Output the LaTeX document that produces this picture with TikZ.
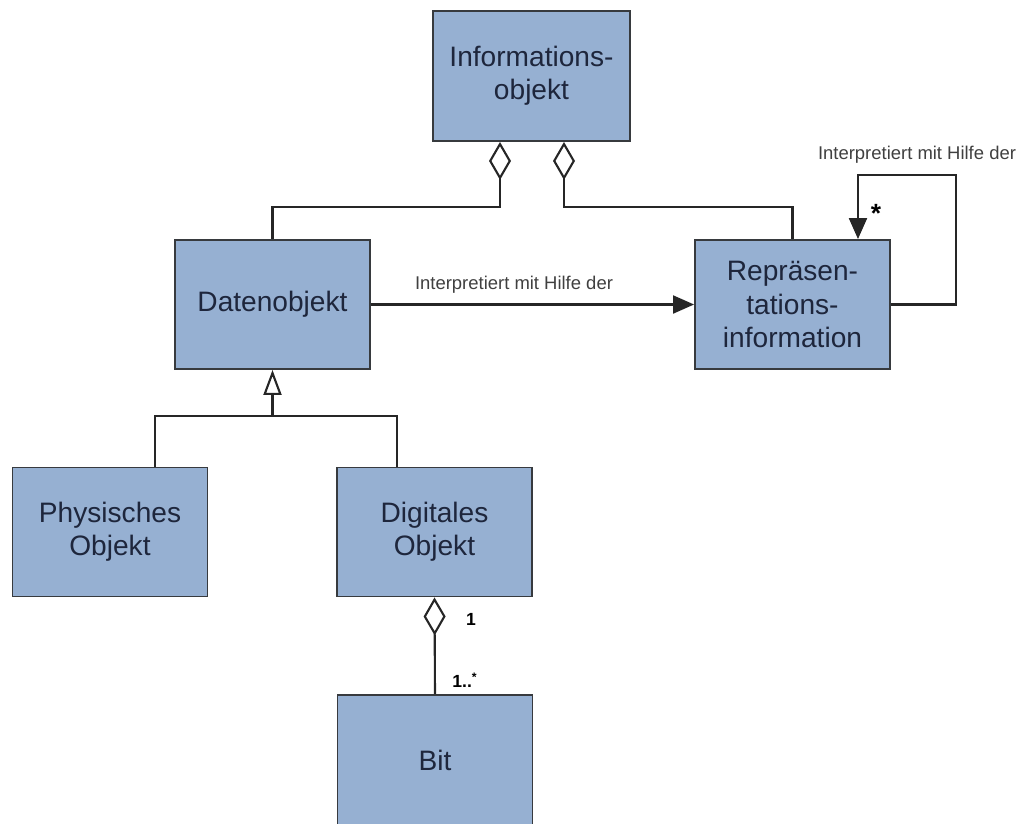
\documentclass[tikz,border=0pt]{standalone}
\usepackage{fontspec}
\setmainfont{Liberation Sans}
\usepackage{xcolor}
\usepackage{tikz}
\usetikzlibrary{arrows.meta,positioning}
\definecolor{boxblue}{RGB}{150,176,210}
\definecolor{boxtext}{RGB}{30,38,60}
\definecolor{boxline}{RGB}{55,58,62}

\begin{document}
\begin{tikzpicture}[x=0.02cm, y=-0.02cm,
  klasse/.style={draw=boxline, fill=boxblue, line width=1.1pt,
                 minimum width=3.9cm, minimum height=2.58cm, align=center,
                 text=boxtext, font=\fontsize{16}{19}\selectfont},
  conn/.style={draw=black!85, line width=1.2pt},
  agg/.style={conn, {Diamond[open, length=0.76cm, width=0.44cm]}-},
  gen/.style={conn, -{Triangle[open, length=0.5cm, width=0.36cm]}},
  nav/.style={conn, -{Triangle[length=0.42cm, width=0.36cm]}},
  lbl/.style={font=\fontsize{10.5}{12}\selectfont, text=black!75},
  mult/.style={font=\bfseries\fontsize{10}{12}\selectfont}]
\useasboundingbox (0,0) rectangle (1022,823);
\clip (0,0) rectangle (1022,823);

\node[klasse, minimum width=3.94cm, minimum height=2.6cm] (info) at (531.5,76)
  {Informations-\\objekt};
\node[klasse] (daten) at (272.5,304.5) {Datenobjekt};
\node[klasse] (repr) at (792.5,304.5) {Repräsen-\\tations-\\information};
\node[klasse] (phys) at (110,532) {Physisches\\Objekt};
\node[klasse] (digi) at (434.5,532) {Digitales\\Objekt};
\node[klasse, minimum height=2.6cm] (bit) at (435,760) {Bit};

% Aggregation
\coordinate (a1) at (500,207);
\coordinate (a2) at (564,207);
\draw[agg] (info.south -| a1) -- (a1) -| (daten.north);
\draw[agg] (info.south -| a2) -- (a2) -| (repr.north);

% Interpretation
\draw[nav] (daten.east) -- (repr.west);
\node[lbl] (lab1) at (514,285) {Interpretiert mit Hilfe der};
\coordinate (s1) at (956,175);
\coordinate (s2) at (858,175);
\draw[nav] (repr.east) -| (s1) -- (s2) -- (repr.north -| s2);
\node[lbl] (lab2) at (917,155) {Interpretiert mit Hilfe der};
\node[font=\bfseries\fontsize{15}{15}\selectfont] (stern) at (876,213) {*};

% Generalisierung
\coordinate (g) at (272.5,416);
\coordinate (g1) at (155,416);
\coordinate (g2) at (397,416);
\draw[gen] (g) -- (daten.south);
\draw[conn] (phys.north -| g1) -- (g1) -- (g2) -- (digi.north -| g2);

% Komposition Bit
\draw[agg] (digi.south) -- (bit.north);
\node[mult] (m1) at (471,619) {1};
\node[mult] (m2) at (465,680) {1..\textsuperscript{*}};
\end{tikzpicture}
\end{document}
